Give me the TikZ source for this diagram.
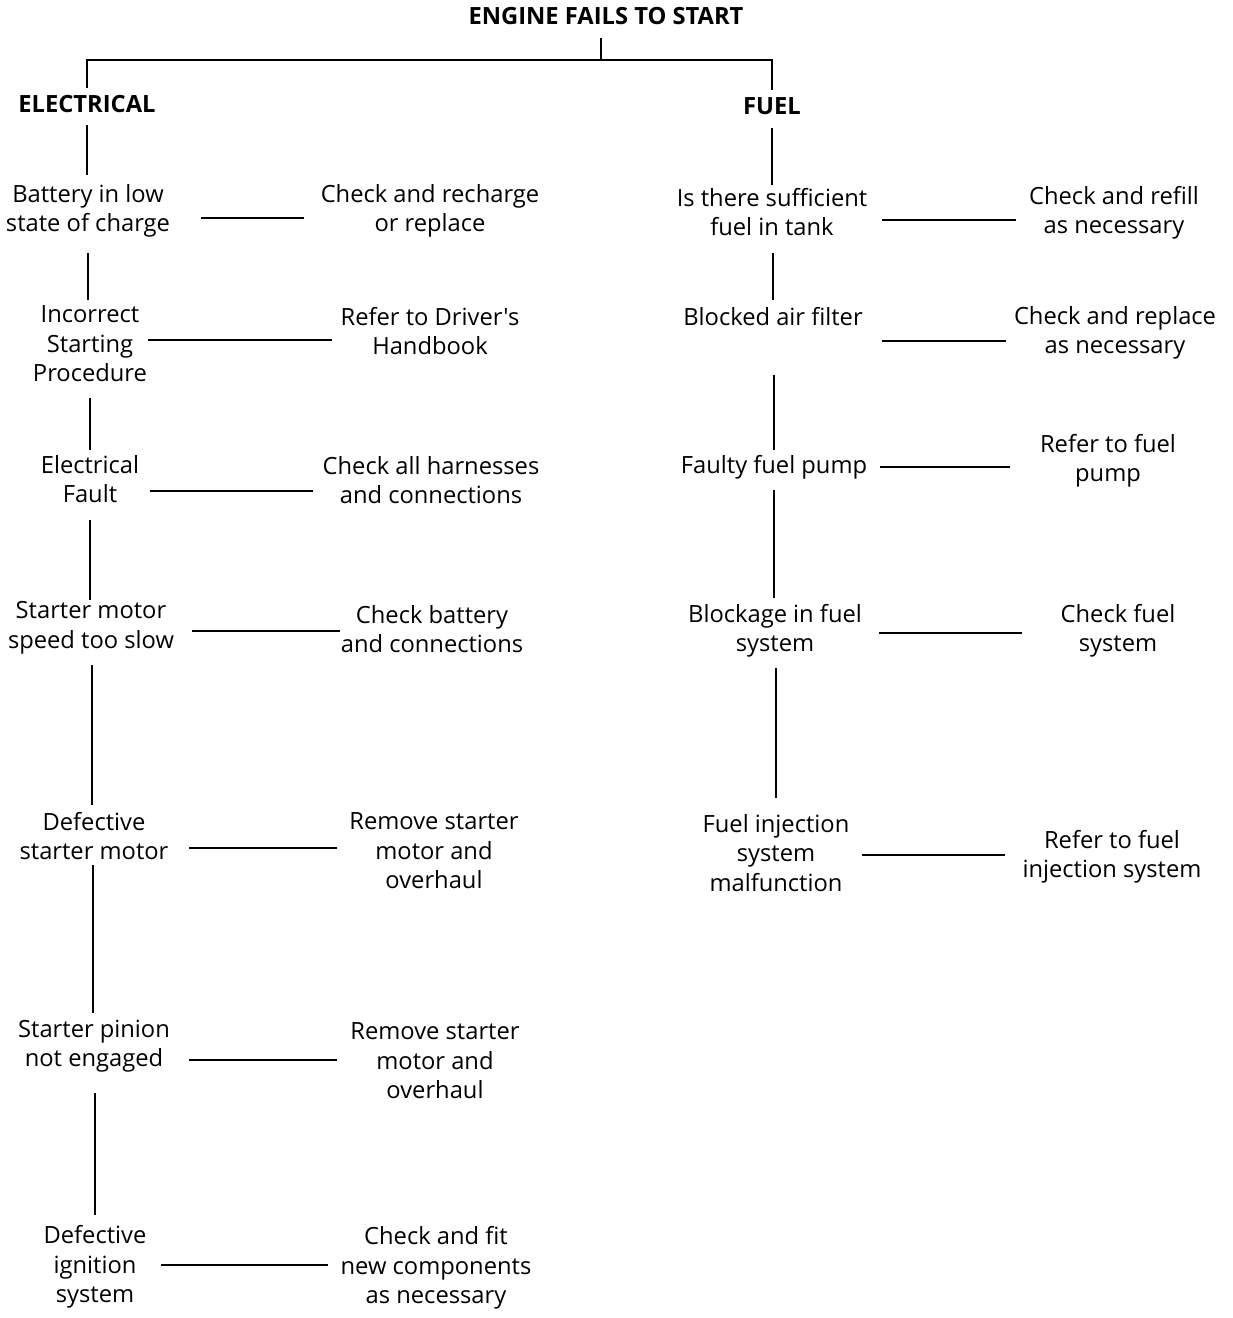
\documentclass[tikz,border=0pt]{standalone}
\usepackage{fontspec}
\setmainfont{Open Sans}[Ligatures=TeXOff]
\begin{document}
\begin{tikzpicture}[x=0.02cm,y=-0.02cm,
  box/.style={align=center,inner sep=0pt,font=\fontsize{13.5}{16.8}\selectfont},
  head/.style={inner sep=0pt,font=\fontsize{13.5}{16.8}\selectfont\bfseries},
  conn/.style={line width=1.1pt}]
\useasboundingbox (0,0) rectangle (1232,1318);
% headings
\node[head] (top) at (606,16) {ENGINE FAILS TO START};
\node[head] (elec) at (87,104) {ELECTRICAL};
\node[head] (fuel) at (772,106) {FUEL};
% electrical column
\node[box] (e1) at (88,211) {Battery in low\\state of charge};
\node[box] (r1) at (430,211) {Check and recharge\\or replace};
\node[box] (e2) at (90,344) {Incorrect\\Starting\\Procedure};
\node[box] (r2) at (430,331) {Refer to Driver's\\Handbook};
\node[box] (e3) at (90,479) {Electrical\\Fault};
\node[box] (r3) at (431,480) {Check all harnesses\\and connections};
\node[box] (e4) at (91,628) {Starter motor\\speed too slow};
\node[box] (r4) at (432,629) {Check battery\\and connections};
\node[box] (e5) at (94,836) {Defective\\starter motor};
\node[box] (r5) at (434,851) {Remove starter\\motor and\\overhaul};
\node[box] (e6) at (94,1046) {Starter pinion\\not engaged};
\node[box] (r6) at (435,1061) {Remove starter\\motor and\\overhaul};
\node[box] (e7) at (95,1267) {Defective\\ignition\\system};
\node[box] (r7) at (436,1268) {Check and fit\\new components\\as necessary};
% fuel column
\node[box] (f1) at (772,212) {Is there sufficient\\fuel in tank};
\node[box] (s1) at (1114,213) {Check and refill\\as necessary};
\node[box] (f2) at (773,317) {Blocked air filter};
\node[box] (s2) at (1115,333) {Check and replace\\as necessary};
\node[box] (f3) at (774,467) {Faulty fuel pump};
\node[box] (s3) at (1108,461) {Refer to fuel\\pump};
\node[box] (f4) at (775,631) {Blockage in fuel\\system};
\node[box] (s4) at (1118,631) {Check fuel\\system};
\node[box] (f5) at (776,853) {Fuel injection\\system\\malfunction};
\node[box] (s5) at (1112,857) {Refer to fuel\\injection system};
% tree lines
\coordinate (t0) at (601,38);
\coordinate (t1) at (601,60);
\coordinate (tl) at (87,60);
\coordinate (tr) at (772,60);
\coordinate (tla) at (87,88);
\coordinate (tra) at (772,90);
\draw[conn] (t0) -- (t1);
\draw[conn] (tla) -- (tl) -- (tr) -- (tra);
% electrical verticals
\coordinate (v0a) at (87,125);  \coordinate (v0b) at (87,175);
\coordinate (v1a) at (88,253);  \coordinate (v1b) at (88,300);
\coordinate (v2a) at (90,398);  \coordinate (v2b) at (90,450);
\coordinate (v3a) at (90,520);  \coordinate (v3b) at (90,600);
\coordinate (v4a) at (92,665);  \coordinate (v4b) at (92,805);
\coordinate (v5a) at (93,865);  \coordinate (v5b) at (93,1013);
\coordinate (v6a) at (95,1093); \coordinate (v6b) at (95,1215);
\foreach \v in {v0,v1,v2,v3,v4,v5,v6} \draw[conn] (\v a) -- (\v b);
% electrical horizontals
\coordinate (h1a) at (201,218);  \coordinate (h1b) at (304,218);
\coordinate (h2a) at (148,340);  \coordinate (h2b) at (332,340);
\coordinate (h3a) at (150,491);  \coordinate (h3b) at (313,491);
\coordinate (h4a) at (192,631);  \coordinate (h4b) at (340,631);
\coordinate (h5a) at (189,848);  \coordinate (h5b) at (337,848);
\coordinate (h6a) at (189,1060); \coordinate (h6b) at (337,1060);
\coordinate (h7a) at (161,1265); \coordinate (h7b) at (328,1265);
\foreach \h in {h1,h2,h3,h4,h5,h6,h7} \draw[conn] (\h a) -- (\h b);
% fuel verticals
\coordinate (w0a) at (772,128); \coordinate (w0b) at (772,185);
\coordinate (w1a) at (773,253); \coordinate (w1b) at (773,300);
\coordinate (w2a) at (774,375); \coordinate (w2b) at (774,450);
\coordinate (w3a) at (774,490); \coordinate (w3b) at (774,598);
\coordinate (w4a) at (776,668); \coordinate (w4b) at (776,798);
\foreach \v in {w0,w1,w2,w3,w4} \draw[conn] (\v a) -- (\v b);
% fuel horizontals
\coordinate (g1a) at (882,220);  \coordinate (g1b) at (1016,220);
\coordinate (g2a) at (882,341);  \coordinate (g2b) at (1006,341);
\coordinate (g3a) at (880,467);  \coordinate (g3b) at (1010,467);
\coordinate (g4a) at (879,633);  \coordinate (g4b) at (1022,633);
\coordinate (g5a) at (862,855);  \coordinate (g5b) at (1005,855);
\foreach \h in {g1,g2,g3,g4,g5} \draw[conn] (\h a) -- (\h b);
\end{tikzpicture}
\end{document}
